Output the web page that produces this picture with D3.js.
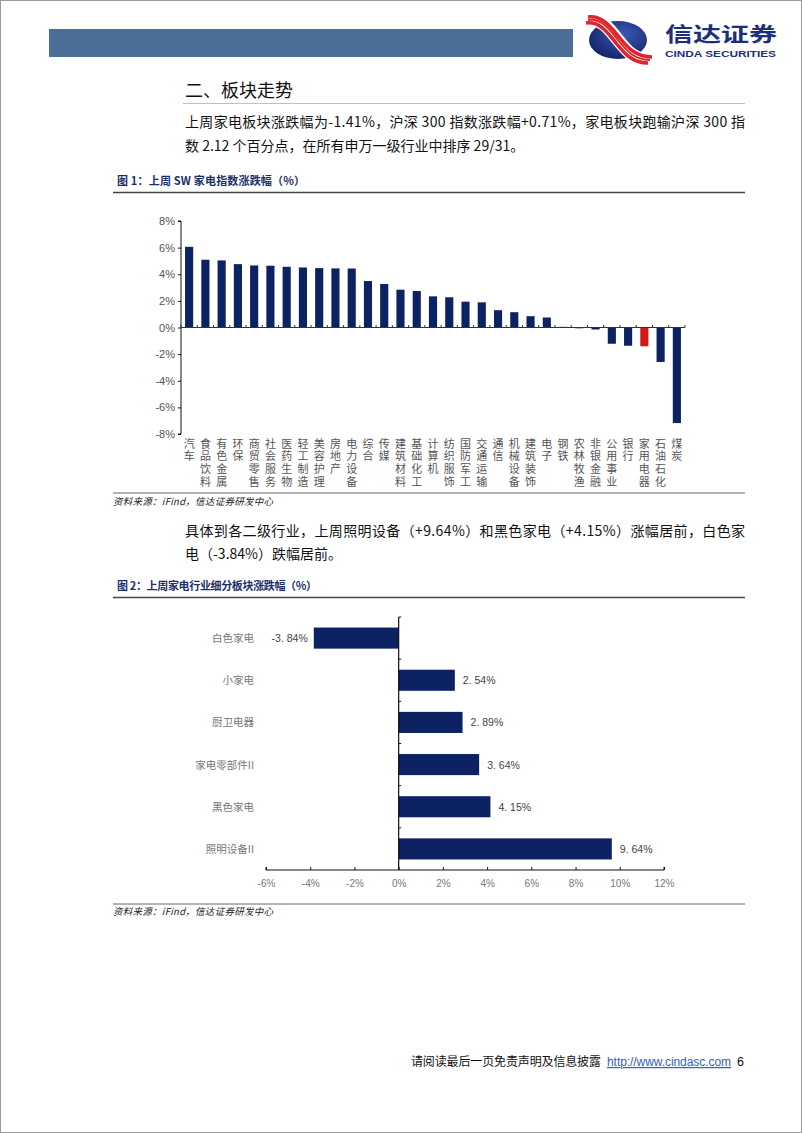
<!DOCTYPE html>
<html><head><meta charset="utf-8">
<script src="https://cdn.jsdelivr.net/npm/d3@7"></script>
<style>
html,body{margin:0;padding:0;background:#fff;}
svg{display:block;}
</style></head>
<body>
<script>
// ---------- data ----------
const categories1 = ["汽车","食品饮料","有色金属","环保","商贸零售","社会服务","医药生物","轻工制造","美容护理","房地产","电力设备","综合","传媒","建筑材料","基础化工","计算机","纺织服饰","国防军工","交通运输","通信","机械设备","建筑装饰","电子","钢铁","农林牧渔","非银金融","公用事业","银行","家用电器","石油石化","煤炭"];
const values1 = [6.06,5.09,5.04,4.76,4.66,4.64,4.56,4.51,4.46,4.44,4.43,3.49,3.27,2.84,2.74,2.34,2.27,1.94,1.89,1.30,1.15,0.85,0.75,0.05,-0.05,-0.15,-1.22,-1.37,-1.41,-2.59,-7.18];
const highlight1 = "家用电器";
const yTicks1 = [-8,-6,-4,-2,0,2,4,6,8];

const categories2 = ["白色家电","小家电","厨卫电器","家电零部件II","黑色家电","照明设备II"];
const values2 = [-3.84,2.54,2.89,3.64,4.15,9.64];
const xTicks2 = [-6,-4,-2,0,2,4,6,8,10,12];

const W = 802, H = 1133;
const navy = "#0c2263", red = "#d01818";
const cjk = "'Noto Sans CJK SC','Noto Sans',sans-serif";
const lat = "'Liberation Sans',Arial,sans-serif";

const svg = d3.select("body").append("svg").attr("width", W).attr("height", H);
svg.append("rect").attr("x",0.5).attr("y",0.5).attr("width",W-1).attr("height",H-1).attr("fill","#fff").attr("stroke","#9a9a9a");

// ---------- header ----------
svg.append("rect").attr("x",49).attr("y",29).attr("width",524).attr("height",28).attr("fill","#4b6f97");
// logo
const defs = svg.append("defs");
const grad = defs.append("radialGradient").attr("id","lgG").attr("cx","60%").attr("cy","35%").attr("r","70%");
grad.append("stop").attr("offset","0%").attr("stop-color","#3a57b0");
grad.append("stop").attr("offset","100%").attr("stop-color","#15236a");
svg.append("ellipse").attr("cx",618).attr("cy",40).attr("rx",29).attr("ry",19).attr("fill","url(#lgG)");
const lg = svg.append("g");
const ribbon = "M588,20 C602,18 610,30 618,40 C626,50 634,60 650,60";
lg.append("path").attr("d",ribbon).attr("fill","none").attr("stroke","#fff").attr("stroke-width",13);
lg.append("path").attr("d","M588,17 C602,15 611,27 619,37 C627,47 636,57 652,57").attr("fill","none").attr("stroke","#e0242b").attr("stroke-width",3.5);
lg.append("path").attr("d","M586,23 C600,21 608,33 616,43 C624,53 632,63 648,63").attr("fill","none").attr("stroke","#e0242b").attr("stroke-width",3.5);
lg.append("path").attr("d",ribbon).attr("fill","none").attr("stroke","#e0242b").attr("stroke-width",2);
svg.append("text").attr("x",665).attr("y",42).attr("font-family",cjk).attr("font-weight",700).attr("font-size",20).attr("fill","#1d2f7a").attr("textLength",112).attr("lengthAdjust","spacingAndGlyphs").text("信达证券");
svg.append("text").attr("x",665).attr("y",57).attr("font-family",lat).attr("font-weight",700).attr("font-size",9).attr("fill","#1d2f7a").attr("textLength",111).attr("lengthAdjust","spacingAndGlyphs").text("CINDA SECURITIES");

// heading
svg.append("text").attr("x",185).attr("y",97).attr("font-family",cjk).attr("font-size",18).attr("fill","#111").text("二、板块走势");
svg.append("line").attr("x1",183).attr("x2",745).attr("y1",103.5).attr("y2",103.5).attr("stroke","#b7c0cc").attr("stroke-width",1);

function para(lines, x, y0, lh, widths){
  lines.forEach((t,i)=>{
    const tx = svg.append("text").attr("x",x).attr("y",y0+i*lh).attr("font-family",cjk).attr("font-size",14).attr("fill","#111").text(t);
    if(widths[i]) tx.attr("textLength",widths[i]).attr("lengthAdjust","spacing");
  });
}
para(["上周家电板块涨跌幅为-1.41%，沪深 300 指数涨跌幅+0.71%，家电板块跑输沪深 300 指",
      "数 2.12 个百分点，在所有申万一级行业中排序 29/31。"],185,127,24,[560,null]);

function figTitle(t,y,ly,len){
  svg.append("text").attr("x",117).attr("y",y).attr("font-family",cjk).attr("font-weight",700).attr("font-size",11).attr("fill","#1d2f6a").attr("textLength",len).text(t);
  svg.append("line").attr("x1",113).attr("x2",745).attr("y1",ly).attr("y2",ly).attr("stroke","#444").attr("stroke-width",1.5);
}
function source(y,ly){
  svg.append("line").attr("x1",113).attr("x2",745).attr("y1",ly).attr("y2",ly).attr("stroke","#666").attr("stroke-width",1);
  svg.append("text").attr("x",113).attr("y",y).attr("font-family",cjk).attr("font-style","italic").attr("font-size",9.5).attr("fill","#222").attr("textLength",160).text("资料来源：iFind，信达证券研发中心");
}
figTitle("图 1：上周 SW 家电指数涨跌幅（%）",185,192.5,188);

// ---------- chart 1 ----------
const x1 = d3.scaleBand().domain(categories1).range([181,685]).paddingInner(0.5).paddingOuter(0.25);
const y1 = d3.scaleLinear().domain([-8,8]).range([434,221]);
const g1 = svg.append("g");
g1.selectAll("rect.b").data(categories1).join("rect")
  .attr("x",d=>x1(d)).attr("width",x1.bandwidth())
  .attr("y",(d,i)=>y1(Math.max(0,values1[i])))
  .attr("height",(d,i)=>Math.max(0.8,Math.abs(y1(values1[i])-y1(0))))
  .attr("fill",d=>d===highlight1?red:navy);
// y axis
const ya = g1.append("g").attr("transform","translate(181,0)")
  .call(d3.axisLeft(y1).tickValues(yTicks1).tickSize(3).tickFormat(d=>d+"%"));
ya.select(".domain").attr("stroke","#111").attr("d","M-3,221H0V434H-3");
ya.selectAll(".tick line").attr("stroke","#111");
ya.selectAll(".tick text").attr("font-family",lat).attr("font-size",11).attr("fill","#555").attr("x",-6);
// x axis at zero
g1.append("line").attr("x1",181).attr("x2",685).attr("y1",y1(0)).attr("y2",y1(0)).attr("stroke","#333").attr("stroke-width",1);
const step1 = x1.step();
g1.selectAll("line.t").data(d3.range(categories1.length+1)).join("line")
  .attr("x1",i=>181+i*step1).attr("x2",i=>181+i*step1)
  .attr("y1",y1(0)).attr("y2",y1(0)-2.5).attr("stroke","#333");
// vertical labels (one text per label, vertical writing)
g1.selectAll("text.c").data(categories1).join("text")
  .attr("class","c")
  .attr("x",d=>x1(d)+x1.bandwidth()/2).attr("y",438)
  .style("writing-mode","vertical-rl").style("text-orientation","upright")
  .attr("letter-spacing",1.8)
  .attr("font-family",cjk).attr("font-size",11).attr("fill","#555")
  .text(d=>d);
source(505,493);

para(["具体到各二级行业，上周照明设备（+9.64%）和黑色家电（+4.15%）涨幅居前，白色家",
      "电（-3.84%）跌幅居前。"],185,536,23,[560,null]);
figTitle("图 2：上周家电行业细分板块涨跌幅（%）",590,597.5,200);

// ---------- chart 2 ----------
const x2 = d3.scaleLinear().domain([-6,12]).range([266,664]);
const y2 = d3.scaleBand().domain(categories2).range([617,870]).paddingInner(0.5).paddingOuter(0.25);
const g2 = svg.append("g");
g2.selectAll("rect").data(categories2).join("rect")
  .attr("x",(d,i)=>x2(Math.min(0,values2[i]))).attr("y",d=>y2(d))
  .attr("width",(d,i)=>Math.abs(x2(values2[i])-x2(0))).attr("height",y2.bandwidth())
  .attr("fill",navy);
const xa = g2.append("g").attr("transform","translate(0,870)")
  .call(d3.axisBottom(x2).tickValues(xTicks2).tickSize(-3).tickFormat(d=>d+"%"));
xa.select(".domain").attr("stroke","#111").attr("d","M266,-3V0H664V-3");
xa.selectAll(".tick line").attr("stroke","#111");
xa.selectAll(".tick text").attr("font-family",lat).attr("font-size",10).attr("fill","#777").attr("y",10);
// vertical zero axis
g2.append("line").attr("x1",x2(0)).attr("x2",x2(0)).attr("y1",617).attr("y2",870).attr("stroke","#111").attr("stroke-width",1.2);
const step2 = y2.step();
g2.selectAll("line.t").data(d3.range(categories2.length)).join("line")
  .attr("x1",x2(0)).attr("x2",x2(0)+2.5)
  .attr("y1",i=>617+i*step2).attr("y2",i=>617+i*step2).attr("stroke","#111");
// category labels
g2.selectAll("text.c").data(categories2).join("text")
  .attr("x",254).attr("y",d=>y2(d)+y2.bandwidth()/2+4)
  .attr("text-anchor","end").attr("font-family",cjk).attr("font-size",10.5).attr("fill","#777").text(d=>d);
// value labels
g2.selectAll("text.v").data(categories2).join("text")
  .attr("x",(d,i)=>values2[i]<0?x2(values2[i])-6:x2(values2[i])+8)
  .attr("y",d=>y2(d)+y2.bandwidth()/2+4)
  .attr("text-anchor",(d,i)=>values2[i]<0?"end":"start")
  .attr("font-family",lat).attr("font-size",10.5).attr("fill","#444")
  .text((d,i)=>values2[i].toFixed(2).replace(".",". ")+"%");
source(915,904);

// ---------- footer ----------
svg.append("text").attr("x",411).attr("y",1066).attr("font-family",cjk).attr("font-size",12).attr("fill","#111").attr("textLength",190).text("请阅读最后一页免责声明及信息披露");
svg.append("text").attr("x",607).attr("y",1066).attr("font-family",lat).attr("font-size",12).attr("fill","#2a62c8").attr("text-decoration","underline").attr("textLength",124).text("http://www.cindasc.com");
svg.append("text").attr("x",737).attr("y",1066).attr("font-family",lat).attr("font-size",12.5).attr("fill","#111").text("6");
</script>
</body></html>
